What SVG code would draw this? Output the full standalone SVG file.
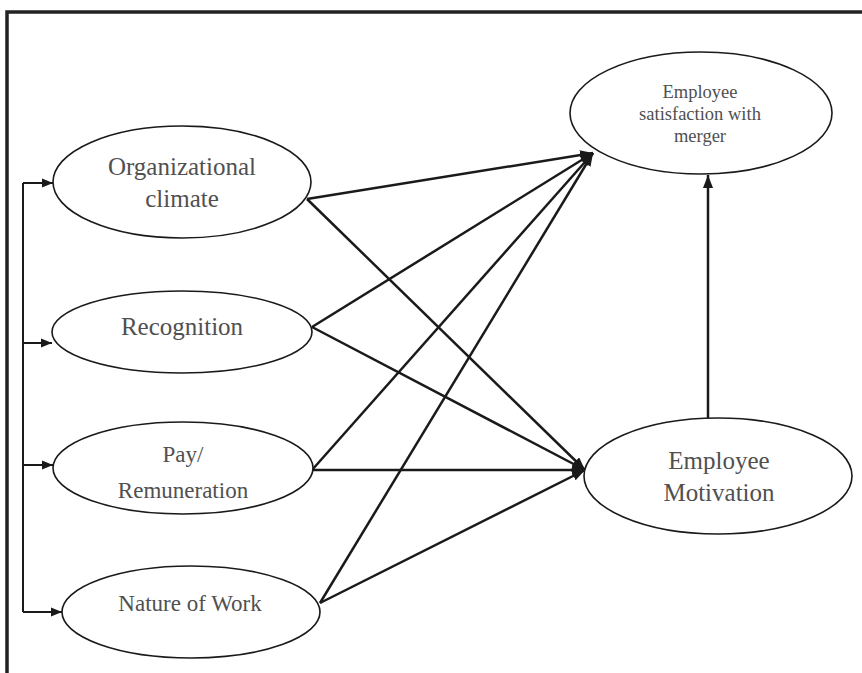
<svg xmlns="http://www.w3.org/2000/svg" width="862" height="673" viewBox="0 0 862 673">
<style>
.node ellipse{fill:#fff;stroke:#1a1a1a;stroke-width:1.6}
.node text{font-family:'Liberation Serif','Times New Roman',Times,serif;fill:#505050;text-anchor:middle}
.conn line{stroke:#1a1a1a;stroke-width:2.5;fill:none}
.conn .thin{stroke-width:2}
.frame{stroke:#222;stroke-width:3.5;fill:none}
</style>
<defs>
<marker id="ah" markerUnits="userSpaceOnUse" markerWidth="14" markerHeight="10" refX="13" refY="5" orient="auto">
<path d="M0,0 L13,5 L0,10 z" fill="#1a1a1a"/>
</marker>
<marker id="ahs" markerUnits="userSpaceOnUse" markerWidth="12" markerHeight="10" refX="11" refY="5" orient="auto">
<path d="M0,0.5 L11,5 L0,9.5 z" fill="#1a1a1a"/>
</marker>
</defs>
<rect width="862" height="673" fill="#fff"/>
<polyline class="frame" points="7,673 7,12 862,12"/>

<g class="conn" id="connectors">
<line class="thin" x1="23" y1="183" x2="23" y2="612"/>
<line class="thin" x1="23" y1="183" x2="53" y2="183" marker-end="url(#ahs)"/>
<line class="thin" x1="23" y1="343" x2="52" y2="343" marker-end="url(#ahs)"/>
<line class="thin" x1="23" y1="465" x2="53" y2="465" marker-end="url(#ahs)"/>
<line class="thin" x1="23" y1="612" x2="62" y2="612" marker-end="url(#ahs)"/>

<line x1="307" y1="199" x2="593" y2="153" marker-end="url(#ah)"/>
<line x1="307" y1="199" x2="585" y2="470" marker-end="url(#ah)"/>
<line x1="312" y1="327" x2="593" y2="153" marker-end="url(#ah)"/>
<line x1="312" y1="327" x2="585" y2="470" marker-end="url(#ah)"/>
<line x1="312" y1="470" x2="593" y2="153" marker-end="url(#ah)"/>
<line x1="312" y1="470" x2="585" y2="470" marker-end="url(#ah)"/>
<line x1="320" y1="603" x2="593" y2="153" marker-end="url(#ah)"/>
<line x1="320" y1="603" x2="585" y2="470" marker-end="url(#ah)"/>
<line x1="708" y1="418" x2="708" y2="175" marker-end="url(#ah)"/>
</g>

<g class="node" id="org-climate">
<ellipse cx="182" cy="182" rx="129" ry="56"/>
<text x="182" y="175" font-size="25">Organizational</text>
<text x="182" y="207" font-size="25">climate</text>
</g>
<g class="node" id="recognition">
<ellipse cx="182" cy="332" rx="130" ry="41"/>
<text x="182" y="335" font-size="25">Recognition</text>
</g>
<g class="node" id="pay">
<ellipse cx="183" cy="468" rx="130" ry="46"/>
<text x="183" y="462" font-size="23">Pay/</text>
<text x="183" y="498" font-size="23">Remuneration</text>
</g>
<g class="node" id="nature-of-work">
<ellipse cx="191" cy="612" rx="129" ry="46"/>
<text x="190" y="611" font-size="23">Nature of Work</text>
</g>
<g class="node" id="satisfaction">
<ellipse cx="701" cy="113" rx="131" ry="61"/>
<text x="700" y="98" font-size="18.5">Employee</text>
<text x="700" y="120" font-size="18.5">satisfaction with</text>
<text x="700" y="142" font-size="18.5">merger</text>
</g>
<g class="node" id="motivation">
<ellipse cx="718" cy="476" rx="134" ry="58"/>
<text x="719" y="469" font-size="25">Employee</text>
<text x="719" y="501" font-size="25">Motivation</text>
</g>
</svg>
